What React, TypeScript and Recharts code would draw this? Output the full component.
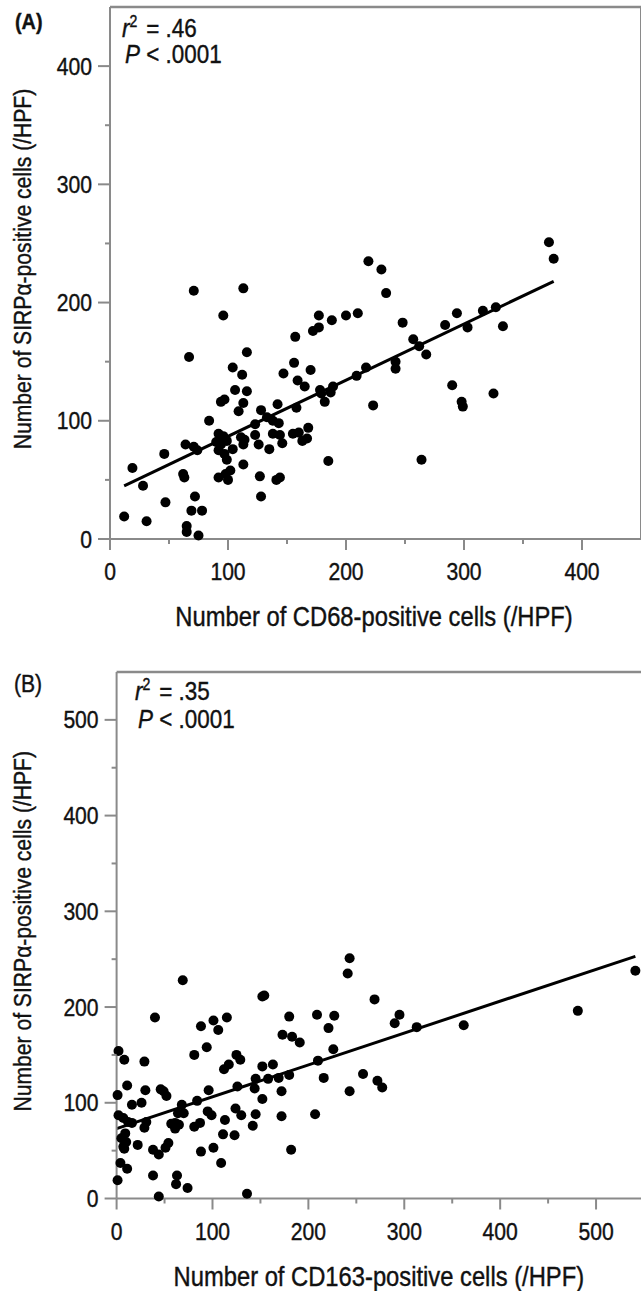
import { ScatterChart, Scatter, XAxis, YAxis, ReferenceLine, Label } from 'recharts'

const FONT = "'Liberation Sans', Arial, Helvetica, sans-serif"
const SQUEEZE = 0.88 // the figure's type is a little condensed
const AXIS_GRAY = '#8a8a8a'
const INK = '#111'
const HEAVY = 0.4 // thin outline so the text reads as heavy as the scanned figure

// (A) CD68 vs SIRPα, both per HPF
const cd68 = [
  12, 19, 28, 31, 46, 47, 62, 63, 64, 67, 71, 71, 74, 72, 69, 78, 65, 65, 75, 84,
  96, 113, 116, 104, 112, 106, 116, 94, 97, 113, 109, 92, 96, 90, 94, 99, 92, 97, 99, 104,
  111, 113, 114, 113, 92, 98, 102, 100, 123, 123, 126, 128, 127, 128, 135, 133, 138, 142, 143, 138,
  144, 146, 141, 144, 147, 156, 157, 159, 158, 155, 160, 163, 168, 167, 172, 177, 177, 188, 200, 210,
  219, 230, 234, 248, 257, 262, 268, 284, 294, 303, 316, 327, 333, 372, 376, 290, 298, 299, 325, 264,
  223, 242, 242, 217, 209, 185, 170, 165, 178, 179, 182, 187, 189,
]
const sirpA = [
  19, 60, 45, 15, 72, 31, 55, 52, 80, 154, 210, 78, 75, 36, 24, 24, 11, 6, 3, 100,
  189, 212, 158, 145, 139, 126, 125, 116, 118, 115, 108, 89, 87, 82, 80, 83, 75, 72, 67, 76,
  86, 80, 84, 63, 52, 55, 58, 50, 97, 88, 80, 109, 53, 36, 76, 103, 100, 114, 98, 89,
  88, 81, 50, 52, 140, 149, 171, 134, 111, 89, 90, 83, 94, 85, 176, 179, 189, 185, 189, 191,
  235, 228, 208, 183, 169, 163, 156, 181, 191, 179, 193, 196, 180, 251, 237, 130, 116, 112, 123, 67,
  113, 150, 144, 145, 138, 66, 143, 129, 126, 123, 116, 124, 129,
]
const fitAX = [12, 376]
const fitAY = [45, 218]

// (B) CD163 vs SIRPα, both per HPF
const cd163 = [
  2, 8, 1, 11, 16, 2, 7, 12, 16, 9, 5, 10, 7, 8, 4, 11, 1, 29, 30, 26,
  31, 29, 22, 40, 46, 49, 52, 38, 44, 51, 54, 38, 44, 63, 62, 74, 69, 57, 61, 65,
  61, 68, 70, 64, 81, 88, 101, 106, 115, 94, 84, 96, 95, 99, 81, 87, 88, 101, 109, 111,
  113, 112, 117, 125, 129, 126, 124, 130, 123, 136, 145, 142, 144, 145, 152, 154, 152, 152, 158, 163,
  169, 172, 172, 173, 180, 183, 180, 182, 191, 243, 241, 269, 209, 227, 221, 226, 210, 216, 243, 257,
  272, 277, 207, 290, 295, 313, 362, 481, 541,
]
const sirpB = [
  154, 145, 108, 118, 98, 87, 84, 80, 79, 68, 63, 59, 54, 52, 37, 31, 19, 143, 113, 100,
  80, 74, 56, 189, 114, 112, 107, 51, 46, 53, 58, 24, 2, 24, 15, 11, 228, 78, 79, 77,
  73, 98, 89, 89, 150, 180, 186, 176, 189, 158, 102, 113, 91, 87, 75, 79, 49, 53, 37, 67,
  82, 135, 140, 150, 145, 117, 94, 87, 66, 5, 88, 76, 115, 125, 211, 212, 138, 104, 125, 140,
  126, 112, 86, 171, 190, 169, 129, 51, 163, 251, 235, 208, 192, 191, 178, 156, 144, 126, 112, 130,
  123, 116, 88, 183, 192, 179, 181, 196, 238,
]
const fitBX = [0, 541]
const fitBY = [73, 253]

const ticksA = [0, 50, 100, 150, 200, 250, 300, 350, 400]
const ticksB = [0, 50, 100, 150, 200, 250, 300, 350, 400, 450, 500]

const toPoints = (xs: number[], ys: number[]) => xs.map((x, i) => ({ x, y: ys[i] }))

function Squeezed({ x, y, anchor, size, weight, rotate, children }: any) {
  return (
    <g transform={`translate(${x},${y})${rotate ? ` rotate(${rotate})` : ''} scale(${SQUEEZE},1)`}>
      <text
        x={0}
        y={0}
        textAnchor={anchor ?? 'start'}
        fontFamily={FONT}
        fontSize={size}
        fontWeight={weight ?? 'normal'}
        fill={INK}
        stroke={INK}
        strokeWidth={HEAVY}
      >
        {children}
      </text>
    </g>
  )
}

function YTick(props: any) {
  const { x, y, payload } = props
  const major = payload.value % 100 === 0
  return (
    <g>
      <line x1={x - (major ? 12 : 5)} x2={x} y1={y} y2={y} stroke={AXIS_GRAY} strokeWidth={2} />
      {major && (
        <Squeezed x={x - 18} y={y + 8.5} anchor="end" size={24}>
          {payload.value}
        </Squeezed>
      )}
    </g>
  )
}

function XTick(props: any) {
  const { x, y, payload } = props
  const major = payload.value % 100 === 0
  return (
    <g>
      <line x1={x} x2={x} y1={y} y2={y + (major ? 11 : 5)} stroke={AXIS_GRAY} strokeWidth={2} />
      {major && (
        <Squeezed x={x} y={y + 41} anchor="middle" size={24}>
          {payload.value}
        </Squeezed>
      )}
    </g>
  )
}

interface PanelProps {
  top: number
  left: number // plot left edge
  plotTop: number
  right: number // plot right edge
  bottom: number // plot bottom edge (within chart)
  xMax: number
  yMax: number
  ticks: number[]
  yTicks: number[]
  points: { x: number; y: number }[]
  fitX: number[]
  fitY: number[]
  xTitle: string
}

function Panel(p: PanelProps) {
  const width = p.right + 4
  const height = p.bottom + 100
  const plotMidX = (p.left + p.right) / 2
  const plotMidY = (p.plotTop + p.bottom) / 2
  return (
    <div style={{ position: 'absolute', left: 0, top: p.top }}>
      <ScatterChart width={width} height={height} margin={{ top: p.plotTop, right: 4, left: 0, bottom: 0 }}>
        <XAxis
          type="number"
          dataKey="x"
          domain={[0, p.xMax]}
          ticks={p.ticks}
          interval={0}
          height={100}
          tickSize={0}
          tickMargin={0}
          tickLine={false}
          tick={<XTick />}
          axisLine={{ stroke: AXIS_GRAY, strokeWidth: 2 }}
        >
          <Label
            content={() => (
              <Squeezed x={plotMidX - 1.5} y={p.bottom + 87} anchor="middle" size={27}>
                {p.xTitle}
              </Squeezed>
            )}
          />
        </XAxis>
        <YAxis
          type="number"
          dataKey="y"
          domain={[0, p.yMax]}
          ticks={p.yTicks}
          interval={0}
          width={p.left}
          tickSize={0}
          tickMargin={0}
          tickLine={false}
          tick={<YTick />}
          axisLine={{ stroke: AXIS_GRAY, strokeWidth: 2 }}
        >
          <Label
            content={() => (
              <Squeezed x={31} y={plotMidY - 4} anchor="middle" size={24} rotate={-90}>
                Number of SIRPα-positive cells (/HPF)
              </Squeezed>
            )}
          />
        </YAxis>
        <ReferenceLine y={p.yMax} stroke={AXIS_GRAY} strokeWidth={2.5} />
        <ReferenceLine x={p.xMax} stroke={AXIS_GRAY} strokeWidth={2} />
        <Scatter
          data={p.points}
          isAnimationActive={false}
          shape={(s: any) => <circle cx={s.cx} cy={s.cy} r={5} fill="#000" />}
        />
        <ReferenceLine
          segment={[
            { x: p.fitX[0], y: p.fitY[0] },
            { x: p.fitX[1], y: p.fitY[1] },
          ]}
          stroke="#000"
          strokeWidth={3}
        />
      </ScatterChart>
    </div>
  )
}

function Stats({ x, y, gap, r2 }: { x: number; y: number; gap: number; r2: string }) {
  const common = { fontFamily: FONT, fontSize: 25.5, fill: INK, stroke: INK, strokeWidth: HEAVY }
  return (
    <g>
      <g transform={`translate(${x},${y}) scale(${SQUEEZE},1)`}>
        <text {...common}>
          <tspan fontStyle="italic">r</tspan>
          <tspan fontSize={16} dy={-10}>2</tspan>
          <tspan dy={10} dx={3}>{` = ${r2}`}</tspan>
        </text>
      </g>
      <g transform={`translate(${x + 3},${y + gap}) scale(${SQUEEZE},1)`}>
        <text {...common}>
          <tspan fontStyle="italic">P</tspan>
          <tspan>{' < .0001'}</tspan>
        </text>
      </g>
    </g>
  )
}

export default function App() {
  const pointsA = toPoints(cd68, sirpA)
  const pointsB = toPoints(cd163, sirpB)
  return (
    <div
      style={{
        position: 'absolute',
        left: 0,
        top: 0,
        width: 641,
        height: 1291,
        overflow: 'hidden',
        background: '#fff',
      }}
    >
      <Panel
        top={0}
        left={110}
        plotTop={7}
        right={641}
        bottom={539}
        xMax={450}
        yMax={450}
        ticks={ticksA}
        yTicks={ticksA}
        points={pointsA}
        fitX={fitAX}
        fitY={fitAY}
        xTitle="Number of CD68-positive cells (/HPF)"
      />
      <Panel
        top={640}
        left={116.6}
        plotTop={32}
        right={644}
        bottom={558.5}
        xMax={550}
        yMax={550}
        ticks={ticksB}
        yTicks={ticksB}
        points={pointsB}
        fitX={fitBX}
        fitY={fitBY}
        xTitle="Number of CD163-positive cells (/HPF)"
      />
      <svg
        width={641}
        height={1291}
        style={{ position: 'absolute', left: 0, top: 0, pointerEvents: 'none' }}
      >
        <Squeezed x={15} y={29} size={22.5} weight="bold">
          (A)
        </Squeezed>
        <Squeezed x={14} y={692} size={24}>
          (B)
        </Squeezed>
        <Stats x={122} y={37} gap={26} r2=".46" />
        <Stats x={135} y={700} gap={28} r2=".35" />
      </svg>
    </div>
  )
}
